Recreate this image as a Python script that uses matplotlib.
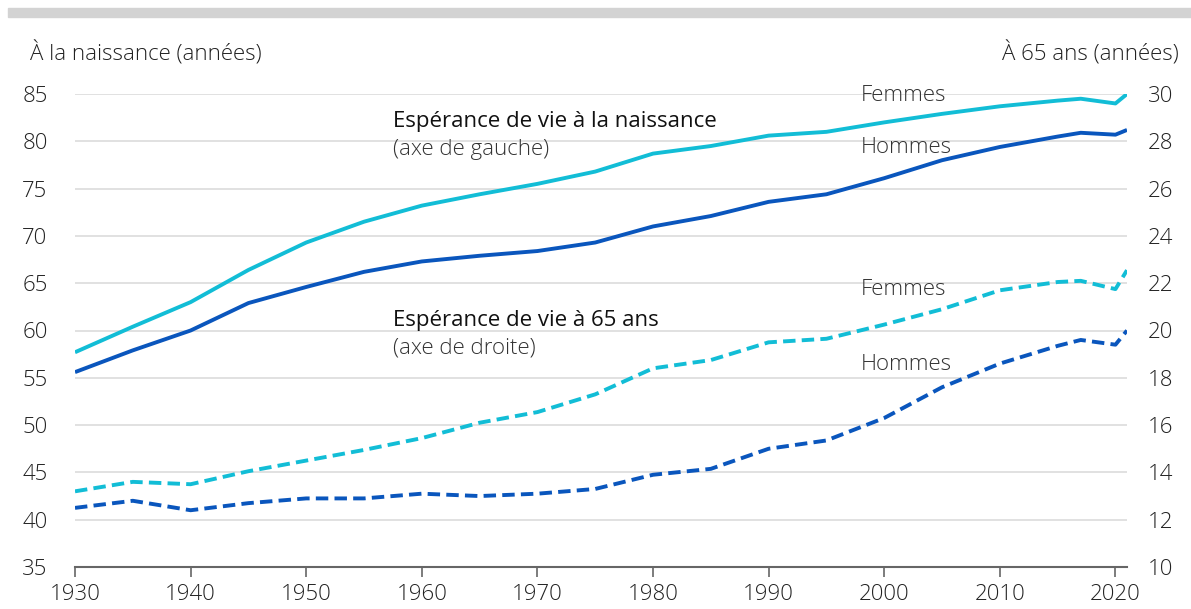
import matplotlib.pyplot as plt
from matplotlib.patches import Rectangle

plt.rcParams['font.family'] = ['Open Sans', 'DejaVu Sans']
plt.rcParams['font.weight'] = 'light'

# Data
years = [1930, 1935, 1940, 1945, 1950, 1955, 1960, 1965, 1970, 1975, 1980,
         1985, 1990, 1995, 2000, 2005, 2010, 2015, 2017, 2020, 2021]
femmes_naissance = [57.7, 60.4, 63.0, 66.4, 69.3, 71.5, 73.2, 74.4, 75.5, 76.8, 78.7,
                    79.5, 80.6, 81.0, 82.0, 82.9, 83.7, 84.3, 84.5, 84.0, 85.0]
hommes_naissance = [55.6, 57.9, 60.0, 62.9, 64.6, 66.2, 67.3, 67.9, 68.4, 69.3, 71.0,
                    72.1, 73.6, 74.4, 76.1, 78.0, 79.4, 80.5, 80.9, 80.7, 81.2]
femmes_65 = [13.2, 13.6, 13.5, 14.05, 14.5, 14.95, 15.45, 16.1, 16.55, 17.3, 18.4,
             18.75, 19.5, 19.65, 20.25, 20.9, 21.7, 22.05, 22.1, 21.75, 22.55]
hommes_65 = [12.5, 12.8, 12.4, 12.7, 12.9, 12.9, 13.1, 13.0, 13.1, 13.3, 13.9,
             14.15, 15.0, 15.35, 16.3, 17.6, 18.6, 19.35, 19.6, 19.4, 20.0]

left_ticks = [35, 40, 45, 50, 55, 60, 65, 70, 75, 80, 85]
right_ticks = [10, 12, 14, 16, 18, 20, 22, 24, 26, 28, 30]
x_ticks = [1930, 1940, 1950, 1960, 1970, 1980, 1990, 2000, 2010, 2020]

cyan = '#12bdd6'
blue = '#0a56bd'
txt = '#222222'
fs = 16

fig = plt.figure(figsize=(11.91, 6.09), dpi=100)
fig.patches.append(Rectangle((8 / 1191, 1 - 17 / 609), 1, 9 / 609,
                             transform=fig.transFigure, color='#d3d3d3', zorder=0))

ax = fig.add_axes([75 / 1191, 1 - 567 / 609, 1052 / 1191, 473 / 609])
ax2 = ax.twinx()

ax.set_xlim(1930, 2021)
ax.set_ylim(35, 85)
ax2.set_ylim(10, 30)

for y in left_ticks[1:]:
    ax.axhline(y, color='#dcdcdc', lw=1.2, zorder=0)

ax.plot(years, femmes_naissance, color=cyan, lw=2.8, solid_capstyle='butt')
ax.plot(years, hommes_naissance, color=blue, lw=2.8, solid_capstyle='butt')
ax2.plot(years, femmes_65, color=cyan, lw=2.8, dashes=(3.2, 1.6))
ax2.plot(years, hommes_65, color=blue, lw=2.8, dashes=(3.2, 1.6))

for a in (ax, ax2):
    for s in ('top', 'left', 'right', 'bottom'):
        a.spines[s].set_visible(False)
ax.spines['bottom'].set_visible(True)
ax.spines['bottom'].set_color('#666666')
ax.spines['bottom'].set_linewidth(1.5)

ax.set_xticks(x_ticks)
ax.set_yticks(left_ticks)
ax2.set_yticks(right_ticks)
ax.tick_params(axis='x', direction='out', length=7, width=1.2, color='#666666',
               labelsize=fs, labelcolor=txt, pad=5)
ax.tick_params(axis='y', length=0, labelsize=fs, labelcolor=txt, pad=38)
ax2.tick_params(axis='y', length=0, labelsize=fs, labelcolor=txt, pad=15)
for lab in ax.get_yticklabels():
    lab.set_horizontalalignment('left')

fig.text(30 / 1191, 1 - 53 / 609, 'À la naissance (années)', fontsize=fs,
         color=txt, va='center', ha='left')
fig.text(1179 / 1191, 1 - 53 / 609, 'À 65 ans (années)', fontsize=fs,
         color=txt, va='center', ha='right')

ax.text(1957.5, 82.1, 'Espérance de vie à la naissance', fontsize=fs, color='#111111',
        va='center', ha='left', fontweight='normal')
ax.text(1957.5, 79.1, '(axe de gauche)', fontsize=fs, color='#333333',
        va='center', ha='left')
ax.text(1957.5, 61.1, 'Espérance de vie à 65 ans', fontsize=fs, color='#111111',
        va='center', ha='left', fontweight='normal')
ax.text(1957.5, 58.1, '(axe de droite)', fontsize=fs, color='#333333',
        va='center', ha='left')

for label, yv in [('Femmes', 84.8), ('Hommes', 79.3), ('Femmes', 64.3), ('Hommes', 56.4)]:
    ax.text(1998.0, yv, label, fontsize=fs, color='#333333', va='center', ha='left')

fig.savefig('out.png', dpi=100)
